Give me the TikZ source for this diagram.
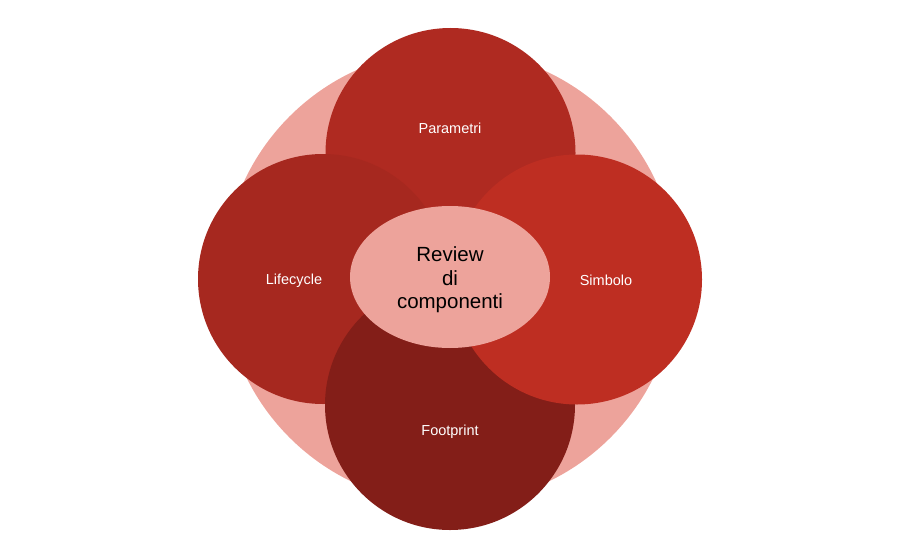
\documentclass[tikz,border=0pt]{standalone}
\usepackage{fontspec}
\setmainfont{Liberation Sans}
\usetikzlibrary{shapes.geometric}
\definecolor{pinkbg}{HTML}{EDA39B}
\definecolor{cparam}{HTML}{AF2A21}
\definecolor{clife}{HTML}{A6281F}
\definecolor{csimb}{HTML}{BE2E22}
\definecolor{cfoot}{HTML}{831E18}
\tikzset{
  petal/.style={circle, minimum size=250pt, inner sep=0pt, draw=none},
  petallabel/.style={text=white, font=\fontsize{14.5}{17}\selectfont, inner sep=0pt},
  hub/.style={ellipse, minimum width=200pt, minimum height=142pt, fill=pinkbg, draw=none, inner sep=0pt},
  hubtext/.style={align=center, font=\fontsize{20.5}{23.5}\selectfont, text=black, inner sep=0pt}
}
\begin{document}
\begin{tikzpicture}[x=1pt,y=-1pt]
\useasboundingbox (0,0) rectangle (923,543);
\node[circle, minimum size=454pt, inner sep=0pt, fill=pinkbg] (bg) at (450,277) {};
\node[petal, fill=cparam] (param) at (450.5,153) {};
\node[petal, fill=clife] (life) at (323,279) {};
\node[petal, fill=cfoot] (foot) at (450,405) {};
\node[petal, fill=csimb] (simb) at (577,279.5) {};
\node[petallabel] (tparam) at (450,128.5) {Parametri};
\node[petallabel] (tlife) at (294,281) {Lifecycle};
\node[petallabel] (tsimb) at (606,280) {Simbolo};
\node[petallabel] (tfoot) at (450,432) {Footprint};
\node[hub] (hub) at (450,277) {};
\node[hubtext] (thub) at (450,280) {Review\\di\\componenti};
\end{tikzpicture}
\end{document}
